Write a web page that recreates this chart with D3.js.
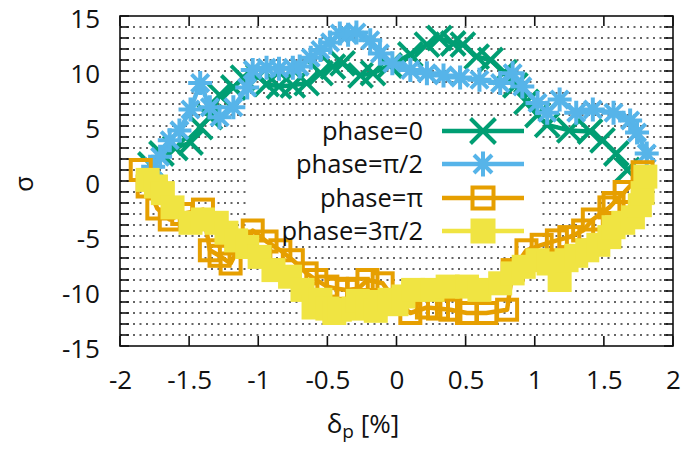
<!DOCTYPE html>
<html><head><meta charset="utf-8">
<script src="https://cdn.jsdelivr.net/npm/d3@7"></script>
<style>
html,body{margin:0;padding:0;background:#fff;}
svg{display:block;}
text{font-family:"Open Sans",sans-serif;fill:#111;}
</style></head><body>
<svg id="c" width="682" height="451"></svg>
<script>
// ---- data ----
const green_x = [-1.78,-1.70,-1.60,-1.49,-1.42,-1.35,-1.28,-1.18,-1.11,-1.00,-0.94,-0.85,-0.75,-0.65,-0.55,-0.46,-0.39,-0.26,-0.17,-0.05,0.10,0.22,0.31,0.41,0.48,0.58,0.68,0.78,0.86,0.94,1.02,1.09,1.25,1.40,1.49,1.59,1.67];
const green_y = [1.5,2.5,3.0,3.5,4.9,5.8,7.8,8.5,9.4,9.5,8.8,8.6,8.7,8.9,9.8,10.4,10.7,9.6,9.8,10.5,11.5,12.4,13.0,12.5,12.4,11.3,11.0,9.9,8.7,7.2,6.0,5.1,4.6,4.5,3.7,2.5,1.0];
const blue_x = [-1.76,-1.71,-1.64,-1.57,-1.49,-1.42,-1.35,-1.28,-1.18,-1.08,-1.04,-0.94,-0.85,-0.75,-0.70,-0.62,-0.55,-0.48,-0.41,-0.35,-0.29,-0.19,-0.12,-0.03,0.10,0.22,0.34,0.46,0.60,0.75,0.84,0.91,1.02,1.09,1.18,1.30,1.42,1.57,1.69,1.74,1.81];
const blue_y = [1.3,2.2,3.7,4.6,6.5,8.9,6.7,5.8,6.7,8.5,10.1,10.3,10.2,10.3,10.4,11.2,11.9,12.6,13.4,13.3,13.5,12.8,11.6,10.7,10.1,9.8,9.6,9.4,9.2,8.9,9.8,8.6,7.1,6.2,7.4,6.2,6.5,6.2,5.5,4.4,2.5];
const orange_x = [-1.85,-1.80,-1.73,-1.64,-1.55,-1.40,-1.35,-1.28,-1.20,-1.12,-1.04,-0.94,-0.84,-0.75,-0.65,-0.58,-0.50,-0.43,-0.36,-0.28,-0.21,-0.10,0.00,0.10,0.22,0.30,0.39,0.51,0.65,0.80,0.84,0.94,1.05,1.16,1.25,1.35,1.42,1.54,1.57,1.65,1.78];
const orange_y = [1.0,-0.5,-2.5,-3.5,-3.0,-2.6,-6.3,-6.8,-7.5,-5.5,-4.5,-5.5,-6.3,-7.2,-8.4,-9.0,-9.6,-9.8,-9.9,-9.8,-9.0,-9.3,-11.0,-12.0,-11.5,-11.6,-11.7,-12.0,-12.0,-11.7,-8.1,-6.3,-5.8,-5.4,-5.1,-4.5,-3.5,-2.4,-2.0,-1.0,0.8];
const yellow_x = [-1.80,-1.74,-1.69,-1.62,-1.49,-1.40,-1.30,-1.23,-1.16,-1.08,-0.99,-0.89,-0.77,-0.68,-0.60,-0.55,-0.50,-0.45,-0.41,-0.31,-0.28,-0.21,-0.15,-0.12,-0.05,0.00,0.05,0.12,0.26,0.37,0.51,0.60,0.75,0.84,0.92,1.02,1.10,1.18,1.23,1.30,1.38,1.46,1.54,1.57,1.64,1.71,1.76,1.78,1.80];
const yellow_y = [0.1,-0.5,-1.1,-2.4,-3.8,-3.5,-3.8,-4.7,-5.4,-6.0,-6.9,-8.1,-8.7,-9.9,-11.5,-10.8,-11.6,-12.0,-11.7,-11.6,-10.9,-11.5,-11.8,-11.0,-10.8,-11.2,-10.5,-9.9,-9.9,-9.6,-9.6,-9.9,-9.3,-8.4,-7.8,-7.2,-7.5,-9.0,-7.2,-6.8,-6.3,-5.8,-5.1,-4.2,-3.8,-3.3,-2.2,-1.1,0.4];
const seriesNames = ["phase=0","phase=\u03c0/2","phase=\u03c0","phase=3\u03c0/2"];
const xTicks = [-2,-1.5,-1,-0.5,0,0.5,1,1.5,2];
const yTicks = [-15,-10,-5,0,5,10,15];

// ---- layout ----
const L=120,R=673,T=16,B=346;
const svg=d3.select("#c");
const x=d3.scaleLinear().domain([-2,2]).range([L,R]);
const y=d3.scaleLinear().domain([-15,15]).range([B,T]);
const colors=["#009e73","#56b4e9","#e69f00","#f0e442"];
const shapes=["x","star","osq","fsq"];
const series=[
  {x:green_x,y:green_y},{x:blue_x,y:blue_y},{x:orange_x,y:orange_y},{x:yellow_x,y:yellow_y}
];

// grid
const gridVals=d3.range(-14,15);
svg.append("g").selectAll("line").data(gridVals).join("line")
  .attr("x1",L).attr("x2",R).attr("y1",d=>y(d)).attr("y2",d=>y(d))
  .attr("stroke","#333").attr("stroke-width",1.4).attr("stroke-dasharray","2,4.5");

// legend box (opaque, behind data)
const LG={x0:250,x1:540,y0:118,y1:244};
svg.append("rect").attr("x",LG.x0).attr("y",LG.y0).attr("width",LG.x1-LG.x0).attr("height",LG.y1-LG.y0).attr("fill","#fff");

// axes ticks
const tl=10;
const fmt=d=>String(d);
const gx=svg.append("g").attr("transform",`translate(0,${B})`).call(d3.axisBottom(x).tickValues(xTicks).tickSize(0).tickPadding(0).tickFormat(fmt));
gx.select(".domain").remove();
gx.selectAll("text").attr("font-size",26).attr("dy",null).attr("y",43).attr("font-family","Open Sans");
const gy=svg.append("g").attr("transform",`translate(${L},0)`).call(d3.axisLeft(y).tickValues(yTicks).tickSize(0).tickPadding(0).tickFormat(fmt));
gy.select(".domain").remove();
gy.selectAll("text").attr("font-size",26).attr("x",-20).attr("dy","0.45em").attr("font-family","Open Sans");

const tg=svg.append("g").attr("stroke","#111").attr("stroke-width",1.6);
xTicks.forEach(v=>{
  tg.append("line").attr("x1",x(v)).attr("x2",x(v)).attr("y1",B).attr("y2",B-tl);
  tg.append("line").attr("x1",x(v)).attr("x2",x(v)).attr("y1",T).attr("y2",T+tl);
});
d3.range(-15,16).forEach(v=>{
  tg.append("line").attr("x1",L).attr("x2",L+9).attr("y1",y(v)).attr("y2",y(v));
  tg.append("line").attr("x1",R).attr("x2",R-9).attr("y1",y(v)).attr("y2",y(v));
});

// data
function marker(g,shape,cx,cy,col,s){
  const h=s/2;
  if(shape==="x"){
    g.append("path").attr("d",`M${cx-h},${cy-h}L${cx+h},${cy+h}M${cx-h},${cy+h}L${cx+h},${cy-h}`).attr("stroke",col).attr("stroke-width",4).attr("fill","none");
  } else if(shape==="star"){
    g.append("path").attr("d",`M${cx-h},${cy}L${cx+h},${cy}M${cx},${cy-h}L${cx},${cy+h}M${cx-h*0.72},${cy-h*0.72}L${cx+h*0.72},${cy+h*0.72}M${cx-h*0.72},${cy+h*0.72}L${cx+h*0.72},${cy-h*0.72}`).attr("stroke",col).attr("stroke-width",4).attr("fill","none");
  } else if(shape==="osq"){
    g.append("rect").attr("x",cx-h+2).attr("y",cy-h+2).attr("width",s-4).attr("height",s-4).attr("stroke",col).attr("stroke-width",4).attr("fill","none");
  } else {
    g.append("rect").attr("x",cx-h).attr("y",cy-h).attr("width",s).attr("height",s).attr("fill",col);
  }
}
const line=d3.line().x(d=>x(d[0])).y(d=>y(d[1]));
series.forEach((s,i)=>{
  const pts=s.x.map((v,j)=>[v,s.y[j]]);
  const g=svg.append("g");
  g.append("path").datum(pts).attr("d",line).attr("fill","none").attr("stroke",colors[i]).attr("stroke-width",4.5).attr("stroke-linejoin","round");
  pts.forEach(p=>marker(g,shapes[i],x(p[0]),y(p[1]),colors[i],24));
});

// legend entries
const rowY=[131,164,198,231];
seriesNames.forEach((n,i)=>{
  svg.append("text").attr("x",423).attr("y",rowY[i]).attr("dy","0.36em").attr("text-anchor","end").attr("font-size",25.5).attr("font-family","DejaVu Sans").text(n);
  svg.append("line").attr("x1",442).attr("x2",524).attr("y1",rowY[i]).attr("y2",rowY[i]).attr("stroke",colors[i]).attr("stroke-width",4.5);
  marker(svg.append("g"),shapes[i],483,rowY[i],colors[i],25);
});

// frame
svg.append("rect").attr("x",L).attr("y",T).attr("width",R-L).attr("height",B-T).attr("fill","none").attr("stroke","#111").attr("stroke-width",1.6);

// axis labels
const xl=svg.append("text").attr("x",363).attr("y",433).attr("text-anchor","middle").attr("font-size",26);
xl.append("tspan").text("\u03b4");
xl.append("tspan").attr("font-size",19).attr("dy",5).text("p");
xl.append("tspan").attr("dy",-5).text(" [%]");
svg.append("text").attr("transform","translate(24,184) rotate(-90)").attr("text-anchor","middle").attr("dy","0.36em").attr("font-size",26).text("\u03c3");
</script>
</body></html>
